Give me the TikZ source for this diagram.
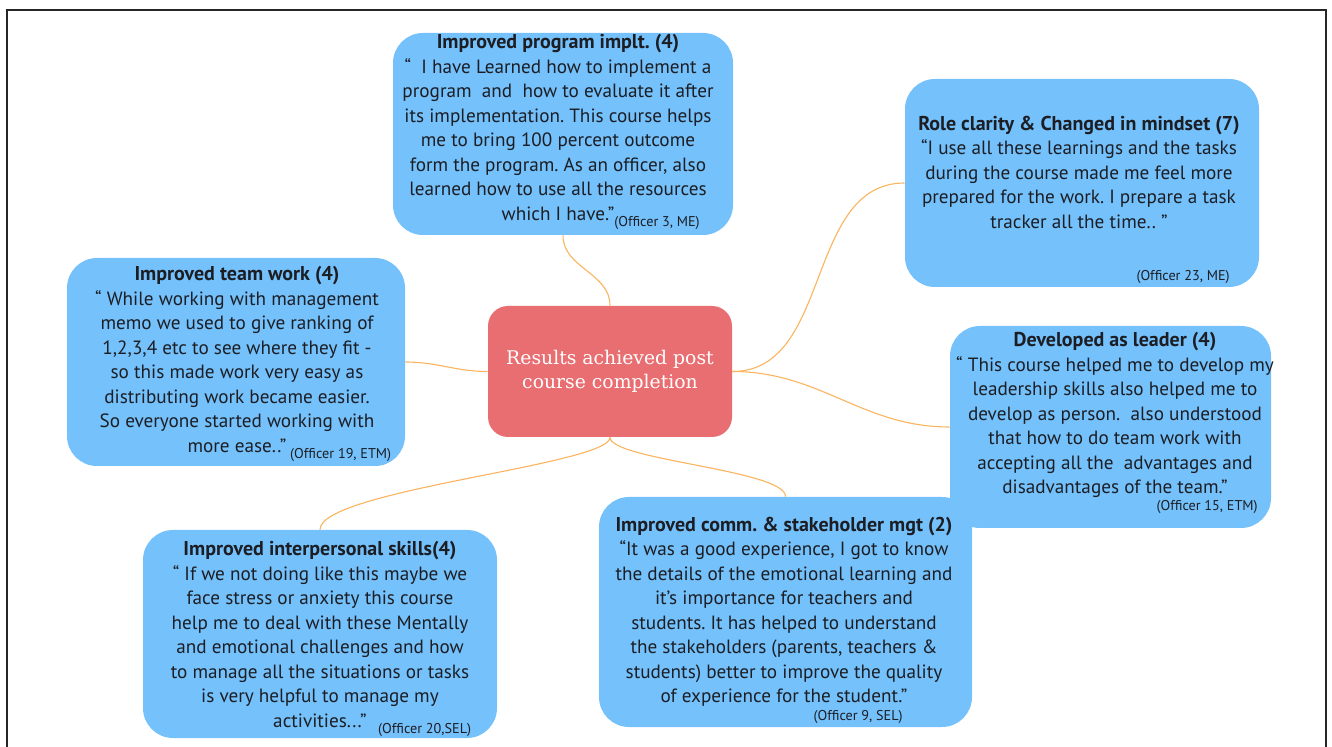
\documentclass[tikz,border=0pt]{standalone}
\usepackage{fontspec}
\setmainfont{PT Sans}
\newfontfamily\slabfont{DejaVu Serif}
\usepackage{tikz}
\usetikzlibrary{positioning}
\frenchspacing

\definecolor{bubbleblue}{RGB}{116,193,252}
\definecolor{hubred}{RGB}{233,110,114}
\definecolor{branchorange}{RGB}{250,180,95}
\definecolor{inkgrey}{RGB}{28,30,36}

\newcommand{\quotesize}{\fontsize{9.6}{12.25}\selectfont}
\newcommand{\headsize}{\fontsize{10}{12.25}\selectfont\bfseries}
\newcommand{\bysize}{\fontsize{7.1}{8}\selectfont}

\tikzset{
	bubble/.style={fill=bubbleblue,rounded corners=15pt,inner sep=0pt},
	quote/.style={align=center,text=inkgrey,font=\quotesize,inner sep=0pt},
	byline/.style={text=inkgrey,font=\bysize,inner sep=0pt},
	hub/.style={fill=hubred,rounded corners=10pt,text=white,align=center,
		font=\slabfont\fontsize{9.4}{12}\selectfont,inner sep=0pt},
	branch/.style={draw=branchorange,line width=0.55pt}
}

\begin{document}
\begin{tikzpicture}[x=0.5pt,y=-0.5pt]
	\useasboundingbox (0,0) rectangle (1332,747);
	\draw[line width=1pt,black!85] (7,760) -- (7,10) -- (1325.5,10) -- (1325.5,760);

	\node[hub,minimum width=122pt,minimum height=65.5pt] (hub) at (610,371.5)
		{Results achieved post\\course completion};

	\node[bubble,minimum width=170pt,minimum height=101pt] (implt) at (563,134) {};
	\node[quote] (impltq) at (558,132) {{\headsize Improved program implt. (4)}\\
		“\ \ I have Learned how to implement a\\
		program\ \ and\ \ how to evaluate it after\\
		its implementation. This course helps\\
		me to bring 100 percent outcome\\
		form the program. As an officer, also\\
		learned how to use all the resources\\
		which I have.”\rlap{\raisebox{-0.6ex}{\bysize(Officer 3, ME)}}};

	\node[bubble,minimum width=177pt,minimum height=104pt] (role) at (1082,183) {};
	\node[quote] (roleq) at (1079,172) {{\headsize Role clarity \& Changed in mindset (7)}\\
		“I use all these learnings and the tasks\\
		during the course made me feel more\\
		prepared for the work. I prepare a task\\
		tracker all the time.. ”};
	\node[byline,anchor=base east] (rolesrc) at (1230,281) {(Officer 23, ME)};

	\node[bubble,minimum width=169pt,minimum height=104pt] (team) at (236,362) {};
	\node[quote] (teamq) at (237,364) {{\headsize Improved team work (4)}\\
		“ While working with management\\
		memo we used to give ranking of\\
		1,2,3,4 etc to see where they fit -\\
		so this made work very easy as\\
		distributing work became easier.\\
		So everyone started working with\\
		more ease..”\rlap{\raisebox{-0.6ex}{\bysize\ (Officer 19, ETM)}}};

	\node[bubble,minimum width=160.5pt,minimum height=101pt] (leader) at (1110.5,427) {};
	\node[quote] (leaderq) at (1115,415) {{\headsize Developed as leader (4)}\\
		“ This course helped me to develop my\\
		leadership skills also helped me to\\
		develop as person.\ \ also understood\\
		that how to do team work with\\
		accepting all the\ \ advantages and\\
		disadvantages of the team.”};
	\node[byline,anchor=base east] (leadersrc) at (1258,511) {(Officer 15, ETM)};

	\node[bubble,minimum width=177pt,minimum height=104pt] (inter) at (320,634) {};
	\node[quote] (interq) at (320,639) {{\headsize Improved interpersonal skills(4)}\\
		“ If we not doing like this maybe we\\
		face stress or anxiety this course\\
		help me to deal with these Mentally\\
		and emotional challenges and how\\
		to manage all the situations or tasks\\
		is very helpful to manage my\\
		activities...”\rlap{\raisebox{-0.6ex}{\bysize\ \ \ (Officer 20,SEL)}}};

	\node[bubble,minimum width=186.5pt,minimum height=115pt] (comm) at (785.5,612) {};
	\node[quote] (commq) at (784,612) {{\headsize Improved comm. \& stakeholder mgt (2)}\\
		“It was a good experience, I got to know\\
		the details of the emotional learning and\\
		it's importance for teachers and\\
		students. It has helped to understand\\
		the stakeholders (parents, teachers \&\\
		students) better to improve the quality\\
		of experience for the student.”};
	\node[byline,anchor=base east] (commsrc) at (903,720) {(Officer 9, SEL)};

	\draw[branch] (hub.north) to[out=90,in=-90] (implt.south);
	\draw[branch] (hub.east) to[out=0,in=180] (role.west);
	\draw[branch] (hub.east) to[out=0,in=180] (leader.west);
	\draw[branch] (hub.west) to[out=180,in=0] (team.east);
	\draw[branch] (hub.south) .. controls (610,465) and (320,490) .. (inter.north);
	\draw[branch] (hub.south) .. controls (610,460) and (786,470) .. (comm.north);
\end{tikzpicture}
\end{document}
